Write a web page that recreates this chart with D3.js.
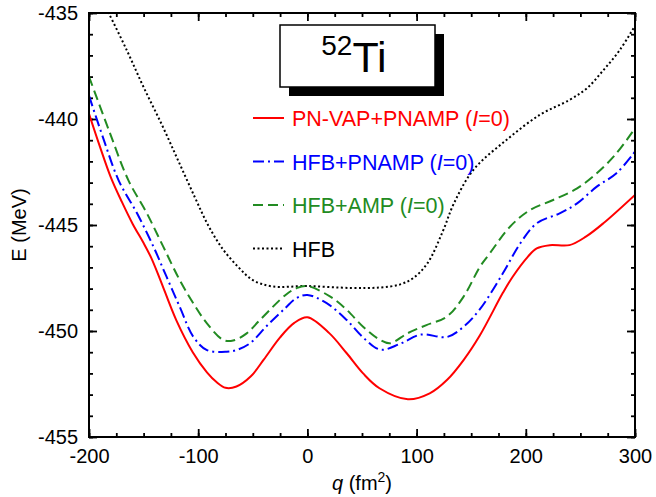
<!DOCTYPE html>
<html>
<head>
<meta charset="utf-8">
<script src="https://cdn.jsdelivr.net/npm/d3@7"></script>
<style>
  html, body { margin: 0; padding: 0; background: #fff; }
  svg { display: block; font-family: "Liberation Sans", Arial, Helvetica, sans-serif; }
</style>
</head>
<body>
<svg id="chart" width="656" height="497"></svg>
<script>
// ---------- data ----------
const xTicks = [-200, -100, 0, 100, 200, 300];
const yTicks = [-435, -440, -445, -450, -455];

const redQ = [-200, -190, -180, -170, -160, -150, -143, -135, -120, -105, -92, -83, -75, -65, -52, -40, -25, -12, 0, 20, 36, 51, 66, 92, 112, 128, 143, 158, 179, 188, 202, 210, 222, 240, 255, 271, 300];
const redE = [-439.75, -441.3, -442.75, -443.9, -444.95, -445.85, -446.55, -447.55, -449.5, -451.0, -451.95, -452.42, -452.68, -452.62, -452.15, -451.35, -450.3, -449.62, -449.35, -450.1, -451.05, -452.0, -452.7, -453.22, -452.94, -452.3, -451.37, -450.2, -448.2, -447.44, -446.49, -446.1, -445.95, -445.95, -445.55, -444.92, -443.58];

const blueQ = [-200, -187, -173, -156, -141, -129, -117, -104.5, -92, -74, -65, -52.6, -37, -20.5, -10, 0, 18, 36, 52, 67, 85, 104, 128, 143, 158, 179, 195, 210, 231, 247, 265, 283, 300];
const blueE = [-438.9, -440.9, -442.88, -444.45, -446.02, -447.44, -448.85, -450.27, -450.9, -450.98, -450.9, -450.58, -449.75, -448.93, -448.45, -448.3, -448.7, -449.48, -450.35, -450.88, -450.6, -450.17, -450.28, -449.8, -448.97, -447.28, -445.86, -444.92, -444.45, -443.98, -443.19, -442.56, -441.54];

const greenQ = [-200, -182, -164, -147, -132, -117, -104.5, -92, -77, -68, -55.6, -43.4, -20, -10, 0, 21, 36, 51, 66.5, 75.6, 92, 109, 127.5, 143, 158, 167, 185.5, 204, 225, 247, 265, 283, 300];
const greenE = [-438.0, -440.5, -442.88, -444.45, -446.02, -447.59, -448.69, -449.64, -450.42, -450.45, -450.11, -449.48, -448.3, -447.98, -447.88, -448.38, -449.0, -449.8, -450.42, -450.58, -450.1, -449.72, -449.33, -448.38, -446.97, -446.34, -445.08, -444.29, -443.82, -443.27, -442.56, -441.62, -440.44];

const hfbQ = [-190, -182, -165, -150, -133, -118, -103, -91, -78, -63, -50, -32, 0, 40, 66, 85, 97, 110, 124, 134, 152, 182, 213, 240, 256, 271, 286, 300];
const hfbE = [-434.2, -435.0, -436.8, -438.5, -440.3, -442.0, -443.7, -445.0, -446.1, -447.0, -447.6, -447.9, -447.88, -447.97, -447.95, -447.8, -447.5, -446.8, -445.3, -444.0, -442.4, -441.0, -439.8, -439.1, -438.55, -437.7, -436.75, -435.6];

const seriesNames = ["PN-VAP+PNAMP", "HFB+PNAMP", "HFB+AMP", "HFB"];
const seriesColors = ["#ff0000", "#0000ff", "#228b22", "#000000"];
const seriesDash = [null, "11,4,2,4", "10,5", "2,2.5"];
const seriesQ = [redQ, blueQ, greenQ, hfbQ];
const seriesE = [redE, blueE, greenE, hfbE];

// ---------- layout ----------
const svg = d3.select("#chart");
const L = 89, T = 13, W = 546, H = 424;
const x = d3.scaleLinear().domain([-200, 300]).range([L, L + W]);
const y = d3.scaleLinear().domain([-455, -435]).range([T + H, T]);

svg.append("defs").append("clipPath").attr("id", "clip")
  .append("rect").attr("x", L).attr("y", T).attr("width", W).attr("height", H);

const fontTick = 20;

function styleAxis(g) {
  g.select(".domain").remove();
  g.selectAll("line").attr("stroke", "#000").attr("stroke-width", 1.8);
  g.selectAll("text").attr("fill", "#000").style("font-size", fontTick + "px")
    .style("font-family", "'Liberation Sans', Arial, sans-serif");
}
const fmt = d3.format("d");
const minorX = d3.range(-200, 301, 25);
const minorY = d3.range(-455, -434, 1);

svg.append("g").attr("transform", `translate(0,${T + H})`)
  .call(d3.axisBottom(x).tickValues(xTicks).tickFormat(d => fmt(d).replace("−", "-")).tickSizeInner(-8).tickSizeOuter(0).tickPadding(12))
  .call(styleAxis);
svg.append("g").attr("transform", `translate(0,${T + H})`)
  .call(d3.axisBottom(x).tickValues(minorX).tickFormat("").tickSizeInner(-4).tickSizeOuter(0))
  .call(styleAxis);
svg.append("g").attr("transform", `translate(0,${T})`)
  .call(d3.axisTop(x).tickValues(xTicks).tickFormat("").tickSizeInner(-8).tickSizeOuter(0))
  .call(styleAxis);
svg.append("g").attr("transform", `translate(0,${T})`)
  .call(d3.axisTop(x).tickValues(minorX).tickFormat("").tickSizeInner(-4).tickSizeOuter(0))
  .call(styleAxis);

svg.append("g").attr("transform", `translate(${L},0)`)
  .call(d3.axisLeft(y).tickValues(yTicks).tickFormat(d => fmt(d).replace("−", "-")).tickSizeInner(-8).tickSizeOuter(0).tickPadding(11))
  .call(styleAxis);
svg.append("g").attr("transform", `translate(${L},0)`)
  .call(d3.axisLeft(y).tickValues(minorY).tickFormat("").tickSizeInner(-4).tickSizeOuter(0))
  .call(styleAxis);
svg.append("g").attr("transform", `translate(${L + W},0)`)
  .call(d3.axisRight(y).tickValues(yTicks).tickFormat("").tickSizeInner(-8).tickSizeOuter(0))
  .call(styleAxis);
svg.append("g").attr("transform", `translate(${L + W},0)`)
  .call(d3.axisRight(y).tickValues(minorY).tickFormat("").tickSizeInner(-4).tickSizeOuter(0))
  .call(styleAxis);

// curves
const line = d3.line().x(d => x(d[0])).y(d => y(d[1])).curve(d3.curveCatmullRom.alpha(0.5));
const plot = svg.append("g").attr("clip-path", "url(#clip)");
for (let i = seriesQ.length - 1; i >= 0; i--) {
  const pts = seriesQ[i].map((q, j) => [q, seriesE[i][j]]);
  plot.append("path").datum(pts)
    .attr("d", line)
    .attr("fill", "none")
    .attr("stroke", seriesColors[i])
    .attr("stroke-width", 2)
    .attr("stroke-dasharray", seriesDash[i]);
}

// frame
svg.append("rect").attr("x", L).attr("y", T).attr("width", W).attr("height", H)
  .attr("fill", "none").attr("stroke", "#000").attr("stroke-width", 2);

// nucleus label box with shadow
svg.append("rect").attr("x", 289).attr("y", 34).attr("width", 155).attr("height", 62).attr("fill", "#000");
svg.append("rect").attr("x", 280).attr("y", 25).attr("width", 155).attr("height", 62)
  .attr("fill", "#fff").attr("stroke", "#000").attr("stroke-width", 1.5);
const lab = svg.append("text").attr("x", 354).attr("y", 72).attr("text-anchor", "middle").attr("fill", "#000");
lab.append("tspan").text("52").style("font-size", "28px").attr("dy", "-17");
lab.append("tspan").text("Ti").style("font-size", "43px").attr("dy", "17");

// legend
const legY = [118, 161.5, 205, 248.5];
const legLabels = seriesNames.map((n, i) => i < 3 ? [n + " (", "I", "=0)"] : [n]);
seriesNames.forEach((n, i) => {
  svg.append("line").attr("x1", 253).attr("x2", 284).attr("y1", legY[i]).attr("y2", legY[i])
    .attr("stroke", seriesColors[i]).attr("stroke-width", 2)
    .attr("stroke-dasharray", seriesDash[i]);
  const t = svg.append("text").attr("x", 292).attr("y", legY[i] + 8)
    .attr("fill", i === 3 ? "#000" : seriesColors[i]).style("font-size", "21.5px");
  legLabels[i].forEach((s, k) => {
    const sp = t.append("tspan").text(s);
    if (k === 1) sp.style("font-style", "italic");
  });
});

// axis titles
const xl = svg.append("text").attr("x", L + W / 2).attr("y", 490).attr("text-anchor", "middle")
  .style("font-size", "20px").attr("fill", "#000");
xl.append("tspan").text("q").style("font-style", "italic");
xl.append("tspan").text(" (fm");
xl.append("tspan").text("2").style("font-size", "14px").attr("dy", "-8");
xl.append("tspan").text(")").attr("dy", "8");

svg.append("text").attr("transform", `translate(26,${T + H / 2}) rotate(-90)`)
  .attr("text-anchor", "middle").style("font-size", "20px").attr("fill", "#000").text("E (MeV)");
</script>
</body>
</html>
